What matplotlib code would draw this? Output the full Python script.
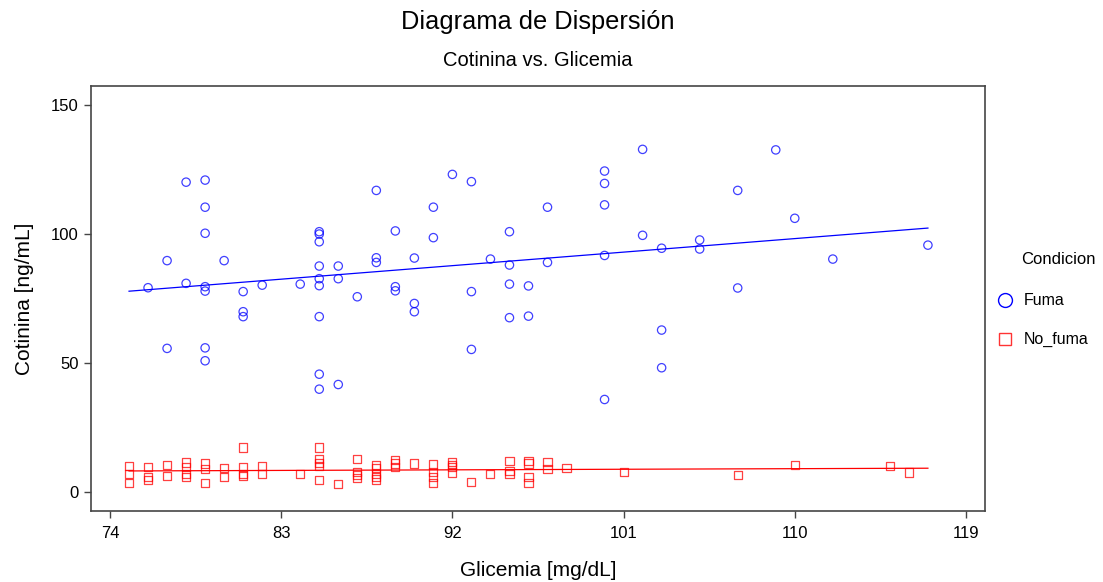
import numpy as np
import matplotlib
matplotlib.use("Agg")
import matplotlib.pyplot as plt
from matplotlib.lines import Line2D

plt.rcParams["font.family"] = ["Liberation Sans", "DejaVu Sans"]

# Fuma: glicemia [mg/dL] and cotinina [ng/mL]
GLIC_FUMA = [76, 77, 77, 78, 78,
             79, 79, 79, 79, 79, 79, 79,
             80, 81, 81, 81, 82, 84,
             85, 85, 85, 85, 85, 85, 85, 85, 85,
             86, 86, 86, 87, 88, 88, 88, 89, 89, 89,
             90, 90, 90, 91, 91, 92, 93, 93, 93, 94,
             95, 95, 95, 95, 96, 96, 97, 97,
             100, 100, 100, 100, 100, 102, 102, 103, 103, 103,
             105, 105, 107, 107, 109, 110, 112, 117]
COT_FUMA = [79.3, 89.8, 55.8, 120.2, 81.0,
            121.0, 110.5, 100.4, 79.7, 78.0, 56.0, 51.0,
            89.8, 77.8, 70.0, 68.1, 80.3, 80.7,
            101.0, 100.1, 97.1, 87.7, 82.8, 80.1, 68.1, 45.8, 40.0,
            87.7, 82.8, 41.8, 75.8, 117.0, 90.9, 89.1, 101.3, 79.7, 78.1,
            90.8, 73.2, 70.0, 110.5, 98.7, 123.2, 120.4, 77.8, 55.4, 90.4,
            101.0, 88.1, 80.7, 67.7, 80.0, 68.3, 110.5, 89.1,
            124.5, 119.7, 111.4, 91.8, 36.0, 132.9, 99.6, 94.6, 62.9, 48.3,
            97.8, 94.3, 117.0, 79.2, 132.7, 106.2, 90.4, 95.8]

# No_fuma
GLIC_NOFUMA = [75, 75, 75, 76, 76, 76, 77, 77,
               78, 78, 78, 78, 79, 79, 79, 80, 80,
               81, 81, 81, 81, 82, 82, 84,
               85, 85, 85, 85, 85, 86, 87, 87, 87, 87,
               88, 88, 88, 88, 88, 89, 89, 89, 90,
               91, 91, 91, 91, 92, 92, 92, 92, 93, 94,
               95, 95, 95, 96, 96, 96, 96, 97, 97, 98,
               101, 107, 110, 115, 116]
COT_NOFUMA = [10.3, 7.3, 3.5, 9.7, 6.0, 4.8, 10.7, 6.3,
              11.6, 9.9, 7.3, 6.0, 11.2, 8.9, 3.5, 9.3, 6.0,
              17.4, 9.9, 7.3, 6.4, 10.2, 7.1, 7.0,
              17.4, 12.8, 11.5, 10.2, 4.8, 3.2, 12.8, 8.0, 6.7, 5.7,
              10.6, 9.3, 7.3, 6.0, 5.0, 12.5, 11.2, 9.9, 11.2,
              10.8, 8.0, 6.0, 3.5, 11.9, 10.6, 9.7, 7.7, 4.1, 7.3,
              12.1, 8.3, 7.0, 12.2, 11.2, 6.0, 3.7, 11.9, 9.0, 9.3,
              8.0, 6.7, 10.7, 10.4, 7.7]

X_TICKS = [74, 83, 92, 101, 110, 119]
Y_TICKS = [0, 50, 100, 150]

BLUE = "#0000ff"
RED = "#ff0000"
FRAME = "#454545"

fig = plt.figure(figsize=(11.03, 5.82), dpi=100)
ax = fig.add_axes([0.0825, 0.122, 0.8105, 0.730])

ax.scatter(GLIC_FUMA, COT_FUMA, s=36, marker="o", facecolors="none",
           edgecolors=BLUE, linewidths=0.9, alpha=0.75, zorder=3)
ax.scatter(GLIC_NOFUMA, COT_NOFUMA, s=34, marker="s", facecolors="none",
           edgecolors=RED, linewidths=0.9, alpha=0.75, zorder=3)

# least-squares lines over the full glicemia range
x_all = np.array(GLIC_FUMA + GLIC_NOFUMA, dtype=float)
xs = np.array([x_all.min(), x_all.max()])
for gx, gy, col in [(GLIC_FUMA, COT_FUMA, BLUE), (GLIC_NOFUMA, COT_NOFUMA, RED)]:
    b, a = np.polyfit(gx, gy, 1)
    ax.plot(xs, a + b * xs, color=col, linewidth=0.9, zorder=2)

ax.set_xlim(73, 120)
ax.set_ylim(-7.2, 157.4)
ax.set_xticks(X_TICKS)
ax.set_yticks(Y_TICKS)
for sp in ax.spines.values():
    sp.set_color(FRAME)
    sp.set_linewidth(1.2)
ax.tick_params(direction="out", length=5, width=1.0, color=FRAME,
               labelsize=12, labelcolor="black")
ax.tick_params(axis="x", pad=6)
ax.tick_params(axis="y", pad=4)

ax.set_xlabel("Glicemia [mg/dL]", fontsize=15, labelpad=14)
ax.set_ylabel("Cotinina [ng/mL]", fontsize=15, labelpad=12)

cx = 0.0825 + 0.8105 / 2
fig.text(cx, 1 - 22 / 582, "Diagrama de Dispersión", ha="center", va="center",
         fontsize=18.3)
fig.text(cx, 1 - 61 / 582, "Cotinina vs. Glicemia", ha="center", va="center",
         fontsize=14.5)

# legend: title placed by hand so it lines up with the entry labels
fig.text(1021 / 1103, 1 - 259 / 582, "Condicion", ha="left", va="center",
         fontsize=12)
handles = [
    Line2D([], [], linestyle="none", marker="o", markersize=10,
           markerfacecolor="none", markeredgecolor=BLUE, markeredgewidth=1.0),
    Line2D([], [], linestyle="none", marker="s", markersize=9,
           markerfacecolor="none", markeredgecolor=RED, markeredgewidth=1.0,
           alpha=0.8),
]
fig.legend(handles, ["Fuma", "No_fuma"],
           loc="upper left", bbox_to_anchor=(0.889, 1 - 279 / 582),
           frameon=False, fontsize=11.5,
           labelspacing=1.5, handletextpad=0.6, handlelength=1.2)

fig.savefig("out.png", dpi=100)
